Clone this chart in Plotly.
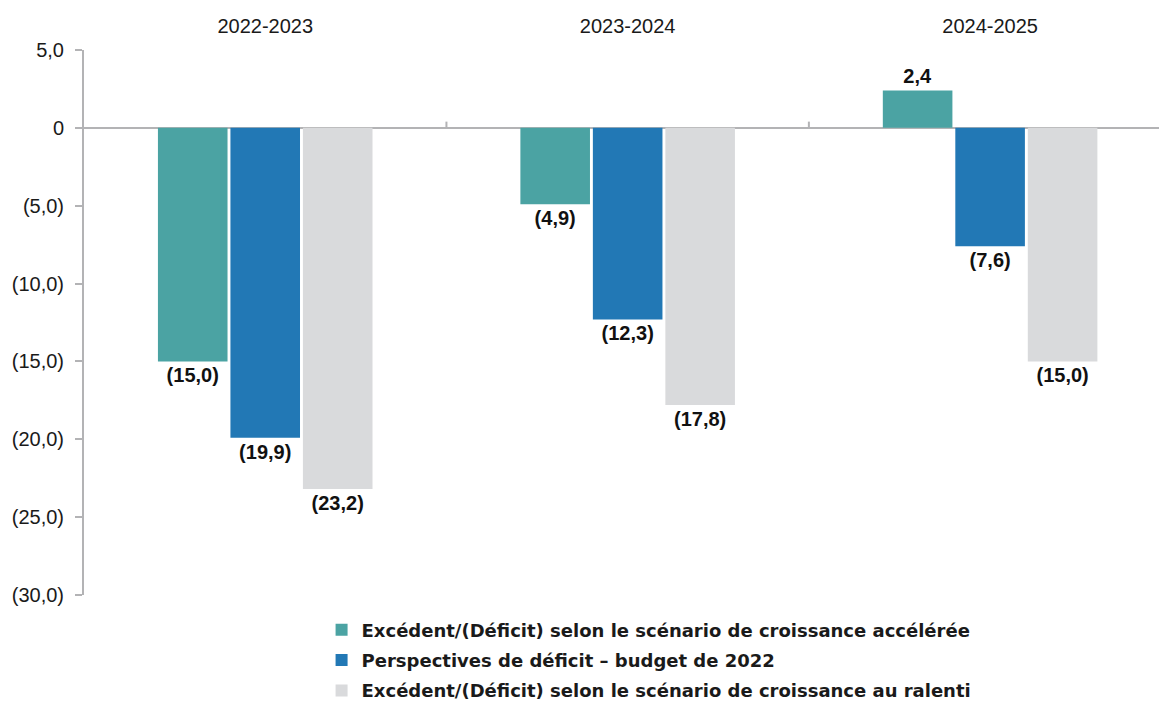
import plotly.graph_objects as go

# Exercices budgétaires
categories = ["2022-2023", "2023-2024", "2024-2025"]

# Soldes (milliards $) par scénario
acceleree = [-15.0, -4.9, 2.4]
budget_2022 = [-19.9, -12.3, -7.6]
ralenti = [-23.2, -17.8, -15.0]

series_names = [
    "Excédent/(Déficit) selon le scénario de croissance accélérée",
    "Perspectives de déficit – budget de 2022",
    "Excédent/(Déficit) selon le scénario de croissance au ralenti",
]
series_colors = ["#4BA3A3", "#2278B5", "#D9DADC"]

y_ticks = [5, 0, -5, -10, -15, -20, -25, -30]


def fr_num(v, zero_plain=False):
    """Format with a decimal comma; negatives shown in parentheses."""
    if zero_plain and v == 0:
        return "0"
    s = f"{abs(v):.1f}".replace(".", ",")
    return f"({s})" if v < 0 else s


fig = go.Figure()
for name, vals, col in zip(series_names, [acceleree, budget_2022, ralenti], series_colors):
    fig.add_trace(go.Bar(
        x=categories, y=vals, name=name, legendgroup=name,
        marker=dict(color=col, line=dict(width=0)),
        text=[fr_num(v) for v in vals], textposition="outside",
        textfont=dict(family="Liberation Sans Narrow, Liberation Sans, Arial", size=20,
                      color="#111111", weight="bold"),
        cliponaxis=False,
    ))

# small tick marks on the zero line between categories
for b in [0.5, 1.5]:
    fig.add_shape(type="line", x0=b, x1=b, y0=0, y1=0.4, xref="x", yref="y",
                  line=dict(color="#B3B3B5", width=2))

fig.update_layout(
    width=1159, height=702,
    margin=dict(l=84, r=0, t=50, b=107),
    plot_bgcolor="white", paper_bgcolor="white",
    barmode="group", bargap=0.4, bargroupgap=0.04,
    showlegend=True,
    legend=dict(
        x=0.221, y=0.129, xref="paper", yref="container", xanchor="left", yanchor="top",
        font=dict(family="DejaVu Sans, sans-serif", size=18, color="#1a1a1a", weight="bold"),
        tracegroupgap=4, itemwidth=30,
    ),
    xaxis=dict(
        side="top", range=[-0.5, 2.466], showline=False, ticks="",
        tickfont=dict(family="Liberation Sans, Arial", size=20, color="#1a1a1a"),
        showgrid=False, zeroline=False, ticklabelstandoff=12,
    ),
    yaxis=dict(
        range=[-30, 5], tickvals=y_ticks, ticktext=[fr_num(v, True) for v in y_ticks],
        showgrid=False, showline=True, linecolor="#B3B3B5", linewidth=2,
        ticks="outside", ticklen=7, tickcolor="#B3B3B5", tickwidth=2,
        zeroline=True, zerolinecolor="#B3B3B5", zerolinewidth=2,
        tickfont=dict(family="Liberation Sans, Arial", size=20, color="#1a1a1a"),
        ticklabelstandoff=7,
    ),
)

fig.write_html("out.html")
